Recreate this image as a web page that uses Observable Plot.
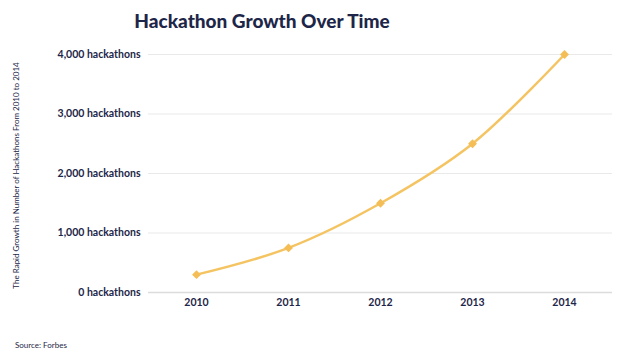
<!DOCTYPE html>
<html>
<head>
<meta charset="utf-8">
<script src="https://cdn.jsdelivr.net/npm/d3@7"></script>
<script src="https://cdn.jsdelivr.net/npm/@observablehq/plot@0.6"></script>
<style>
  html, body { margin: 0; padding: 0; background: #fff; }
  body { width: 624px; height: 351px; position: relative; overflow: hidden; font-family: Lato, "Open Sans", sans-serif; }
  #title { height: 40px; width: 524px; line-height: 42px; text-align: center; font-size: 19px; font-weight: 900; color: #1d2648; }
  #chart { height: 300px; }
  #caption { height: 11px; line-height: 11px; font-size: 8px; color: #1d2648; padding-left: 15px; }
</style>
</head>
<body>
<div id="title">Hackathon Growth Over Time</div>
<div id="chart"></div>
<div id="caption">Source: Forbes</div>
<script>
const years = ["2010", "2011", "2012", "2013", "2014"];
const hackathons = [300, 750, 1500, 2500, 4000];
const yTicks = [0, 1000, 2000, 3000, 4000];
const yLabel = "The Rapid Growth in Number of Hackathons From 2010 to 2014";

const data = years.map((year, i) => ({year, value: hackathons[i]}));
const navy = "#1d2648";
const gold = "#f5c462";

const chart = Plot.plot({
  width: 624,
  height: 300,
  marginTop: 14,
  marginBottom: 48,
  marginLeft: 148,
  marginRight: 12,
  style: {fontFamily: "Lato, 'Open Sans', sans-serif", color: navy, background: "#fff"},
  x: {type: "point", domain: years, padding: 0.5, label: null},
  y: {domain: [0, 4000], label: null},
  marks: [
    Plot.gridY(yTicks.filter(d => d > 0), {stroke: "#e9e9e9", strokeOpacity: 1, strokeWidth: 1}),
    Plot.ruleY([0], {stroke: "#dcdcdc", strokeWidth: 1.5}),
    Plot.axisY({ticks: yTicks, tickSize: 0, tickPadding: 8, fontSize: 10.5, fontWeight: "bold",
      tickFormat: d => d3.format(",")(d) + " hackathons", label: null}),
    Plot.axisX({tickSize: 0, tickPadding: 6, fontSize: 10.5, fontWeight: "bold", label: null}),
    Plot.text([yLabel], {frameAnchor: "left", textAnchor: "middle", rotate: -90, dx: -132, dy: 2, fontSize: 8, fill: navy}),
    Plot.line(data, {x: "year", y: "value", stroke: gold, strokeWidth: 2.5, curve: "catmull-rom"}),
    Plot.dot(data, {x: "year", y: "value", symbol: "diamond2", r: 4, fill: "#f4bd55", stroke: null})
  ]
});
document.getElementById("chart").appendChild(chart);
</script>
</body>
</html>
